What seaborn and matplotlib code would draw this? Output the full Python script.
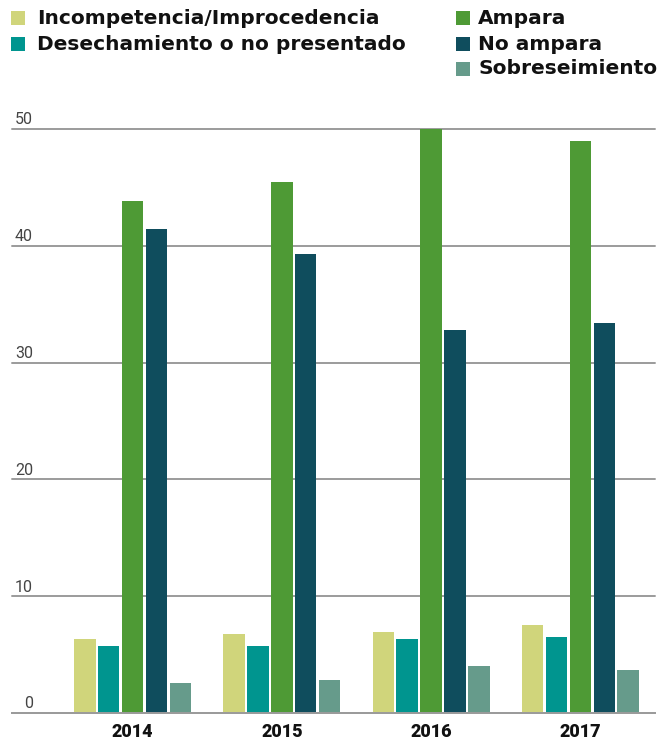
import pandas as pd
import matplotlib
matplotlib.use("Agg")
import matplotlib.pyplot as plt
import matplotlib.transforms as mtransforms
from matplotlib.patches import Rectangle
import seaborn as sns

# data
years = ["2014", "2015", "2016", "2017"]
series = ["Incompetencia/Improcedencia", "Desechamiento o no presentado",
          "Ampara", "No ampara", "Sobreseimiento"]
incompetencia = [6.3, 6.8, 6.9, 7.5]
desechamiento = [5.7, 5.7, 6.3, 6.5]
ampara = [43.8, 45.5, 50.0, 49.0]
no_ampara = [41.4, 39.3, 32.8, 33.4]
sobreseimiento = [2.6, 2.8, 4.0, 3.7]
colors = ["#D0D57B", "#00958F", "#4E9A35", "#0F4D5D", "#669B8B"]
yticks = [0, 10, 20, 30, 40, 50]

W, H = 670, 743

df = pd.DataFrame({
    "year": years * 5,
    "serie": [s for s in series for _ in years],
    "value": incompetencia + desechamiento + ampara + no_ampara + sobreseimiento,
})

sns.set_style("white")
plt.rcParams["font.family"] = ["Roboto", "DejaVu Sans"]

fig = plt.figure(figsize=(W / 100, H / 100), dpi=100)
ax = fig.add_axes([12 / W, 30 / H, 643 / W, (713 - 129) / H])

sns.barplot(data=df, x="year", y="value", hue="serie", hue_order=series,
            palette=colors, saturation=1, width=0.8, gap=0.1,
            linewidth=0, legend=False, ax=ax)

ax.set_xlim(-0.808, 3.5)
ax.set_ylim(0, 50)
ax.set_xlabel("")
ax.set_ylabel("")

# grid
ax.set_yticks(yticks)
ax.yaxis.grid(True, color="#9b9b9b", lw=1.4)
for gl in ax.get_ygridlines():
    gl.set_clip_on(False)
ax.set_axisbelow(True)
ax.tick_params(axis="y", length=0, labelleft=False)

# y labels sit above the gridlines, right-aligned
trans = mtransforms.offset_copy(ax.get_yaxis_transform(), fig=fig, y=1.2, units="points")
for v in yticks:
    ax.text((33 - 12) / 643, v, str(v), transform=trans, ha="right", va="bottom",
            fontsize=11.5, color="#444444")

for side in ["left", "right", "top"]:
    ax.spines[side].set_visible(False)
ax.spines["bottom"].set_color("#9b9b9b")
ax.spines["bottom"].set_linewidth(1.4)

# x axis: separators between years
ax.set_xticks(range(len(years)))
ax.set_xticklabels(years, fontsize=13, fontweight="heavy", color="#111111")
ax.tick_params(axis="x", which="major", length=0, pad=7.5)
ax.set_xticks([i - 0.5 for i in range(len(years) + 1)], minor=True)
ax.tick_params(axis="x", which="minor", length=20, width=1.2, color="#9b9b9b")

# legend in two columns
spots = [(11, 37, 18), (11, 37, 44), (456, 478, 18), (456, 478, 44), (456, 478, 69)]
for (sx, tx, yc), name, c in zip(spots, series, colors):
    fig.add_artist(Rectangle((sx / W, 1 - (yc + 7) / H), 14 / W, 14 / H,
                             transform=fig.transFigure, color=c, lw=0))
    fig.text(tx / W, 1 - yc / H, name, ha="left", va="center", family="DejaVu Sans",
             fontsize=14.5, fontweight="bold", color="#111111")

fig.savefig("out.png", dpi=100)
